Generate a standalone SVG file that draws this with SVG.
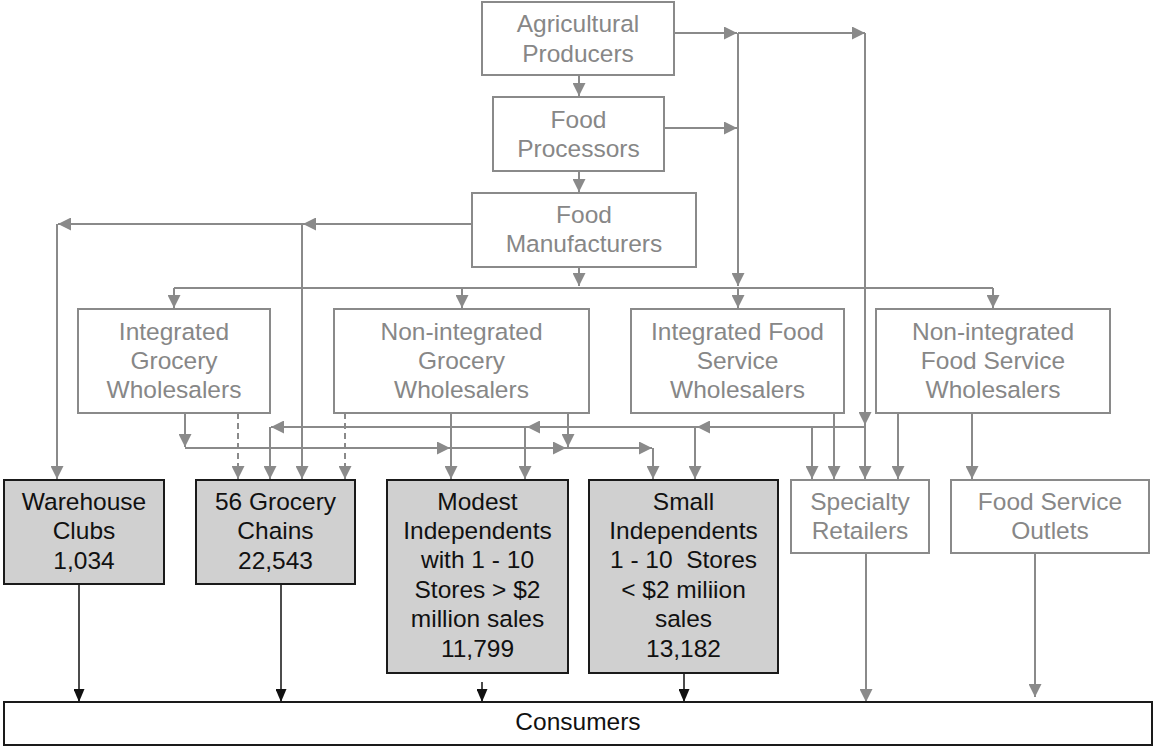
<svg xmlns="http://www.w3.org/2000/svg" width="1153" height="749" viewBox="0 0 1153 749">
<defs>
<style>
.gbox{fill:#ffffff;stroke:#8a8a8a;stroke-width:2}
.dbox{fill:#d0d0d0;stroke:#1a1a1a;stroke-width:2}
.wbox{fill:#ffffff;stroke:#1a1a1a;stroke-width:2}
.gt{font-family:"Liberation Sans",Arial,sans-serif;font-size:24.5px;fill:#878787;text-anchor:middle}
.dt{font-family:"Liberation Sans",Arial,sans-serif;font-size:24.5px;fill:#111111;text-anchor:middle}
.g{stroke:#8a8a8a;stroke-width:2;fill:none}
.ga{stroke:#8a8a8a;stroke-width:2;fill:none;marker-end:url(#ga)}
.gd{stroke:#8a8a8a;stroke-width:2;fill:none;stroke-dasharray:6,4;marker-end:url(#ga)}
.ka{stroke:#111111;stroke-width:1.5;fill:none;marker-end:url(#ka)}
</style>
<marker id="ga" markerUnits="userSpaceOnUse" markerWidth="13" markerHeight="13" refX="13" refY="6.5" orient="auto">
<path d="M0,0 L13,6.5 L0,13 Z" fill="#8a8a8a"/>
</marker>
<marker id="ka" markerUnits="userSpaceOnUse" markerWidth="13" markerHeight="11" refX="13" refY="5.5" orient="auto">
<path d="M0,0 L13,5.5 L0,11 Z" fill="#111111"/>
</marker>
</defs>

<g id="connectors">
<!-- top chain -->
<line class="ga" x1="579" y1="75" x2="579" y2="96"/>
<line class="ga" x1="579" y1="171" x2="579" y2="192"/>
<line class="ga" x1="674" y1="33" x2="737" y2="33"/>
<line class="ga" x1="738" y1="33" x2="865" y2="33"/>
<line class="ga" x1="664" y1="128" x2="737" y2="128"/>
<line class="ga" x1="738" y1="33" x2="738" y2="286"/>
<line class="ga" x1="865" y1="33" x2="865" y2="425"/>
<line class="ga" x1="865" y1="425" x2="865" y2="479"/>
<!-- food manufacturers left -->
<line class="ga" x1="472" y1="224" x2="303" y2="224"/>
<line class="ga" x1="303" y1="224" x2="58" y2="224"/>
<line class="ga" x1="57" y1="224" x2="57" y2="479"/>
<line class="ga" x1="302" y1="224" x2="302" y2="479"/>
<!-- distribution -->
<line class="ga" x1="579" y1="267" x2="579" y2="286"/>
<line class="g" x1="174" y1="288" x2="993" y2="288"/>
<line class="ga" x1="174" y1="288" x2="174" y2="308"/>
<line class="ga" x1="462" y1="288" x2="462" y2="308"/>
<line class="ga" x1="738" y1="288" x2="738" y2="308"/>
<line class="ga" x1="993" y1="288" x2="993" y2="308"/>
<!-- row 2 to row 3 -->
<line class="ga" x1="185" y1="413" x2="185" y2="447"/>
<line class="ga" x1="185" y1="448" x2="450" y2="448"/>
<line class="ga" x1="450" y1="448" x2="566" y2="448"/>
<line class="ga" x1="566" y1="448" x2="652" y2="448"/>
<line class="ga" x1="653" y1="448" x2="653" y2="479"/>
<line class="ga" x1="568" y1="413" x2="568" y2="447"/>
<line class="ga" x1="451" y1="413" x2="451" y2="479"/>
<line class="gd" x1="238" y1="413" x2="238" y2="479"/>
<line class="gd" x1="345" y1="413" x2="345" y2="479"/>
<line class="ga" x1="866" y1="427" x2="697" y2="427"/>
<line class="ga" x1="697" y1="427" x2="527" y2="427"/>
<line class="ga" x1="527" y1="427" x2="271" y2="427"/>
<line class="ga" x1="270" y1="427" x2="270" y2="479"/>
<line class="ga" x1="525" y1="427" x2="525" y2="479"/>
<line class="ga" x1="695" y1="427" x2="695" y2="479"/>
<line class="ga" x1="812" y1="427" x2="812" y2="479"/>
<line class="ga" x1="834" y1="413" x2="834" y2="479"/>
<line class="ga" x1="898" y1="413" x2="898" y2="479"/>
<line class="ga" x1="972" y1="413" x2="972" y2="479"/>
<!-- to consumers -->
<line class="ka" x1="79" y1="584" x2="79" y2="702"/>
<line class="ka" x1="281" y1="584" x2="281" y2="702"/>
<line class="ka" x1="482" y1="682" x2="482" y2="702"/>
<line class="ka" x1="684" y1="673" x2="684" y2="702"/>
<line class="ga" x1="866" y1="553" x2="866" y2="702"/>
<line class="ga" x1="1035" y1="553" x2="1035" y2="697"/>
</g>

<g id="agricultural-producers">
<rect class="gbox" x="482" y="2" width="192" height="73"/>
<text class="gt" x="578" y="32">Agricultural</text>
<text class="gt" x="578" y="62">Producers</text>
</g>
<g id="food-processors">
<rect class="gbox" x="493" y="97" width="171" height="74"/>
<text class="gt" x="578.5" y="128">Food</text>
<text class="gt" x="578.5" y="157">Processors</text>
</g>
<g id="food-manufacturers">
<rect class="gbox" x="472" y="193" width="224" height="74"/>
<text class="gt" x="584" y="223">Food</text>
<text class="gt" x="584" y="252">Manufacturers</text>
</g>

<g id="integrated-grocery-wholesalers">
<rect class="gbox" x="78" y="309" width="192" height="104"/>
<text class="gt" x="174" y="340">Integrated</text>
<text class="gt" x="174" y="369">Grocery</text>
<text class="gt" x="174" y="398">Wholesalers</text>
</g>
<g id="non-integrated-grocery-wholesalers">
<rect class="gbox" x="334" y="309" width="255" height="104"/>
<text class="gt" x="461.5" y="340">Non-integrated</text>
<text class="gt" x="461.5" y="369">Grocery</text>
<text class="gt" x="461.5" y="398">Wholesalers</text>
</g>
<g id="integrated-food-service-wholesalers">
<rect class="gbox" x="631" y="309" width="213" height="104"/>
<text class="gt" x="737.5" y="340">Integrated Food</text>
<text class="gt" x="737.5" y="369">Service</text>
<text class="gt" x="737.5" y="398">Wholesalers</text>
</g>
<g id="non-integrated-food-service-wholesalers">
<rect class="gbox" x="876" y="309" width="234" height="104"/>
<text class="gt" x="993" y="340">Non-integrated</text>
<text class="gt" x="993" y="369">Food Service</text>
<text class="gt" x="993" y="398">Wholesalers</text>
</g>

<g id="warehouse-clubs">
<rect class="dbox" x="4" y="480" width="160" height="104"/>
<text class="dt" x="84" y="510">Warehouse</text>
<text class="dt" x="84" y="539">Clubs</text>
<text class="dt" x="84" y="569">1,034</text>
</g>
<g id="grocery-chains">
<rect class="dbox" x="196" y="480" width="159" height="104"/>
<text class="dt" x="275.5" y="510">56 Grocery</text>
<text class="dt" x="275.5" y="539">Chains</text>
<text class="dt" x="275.5" y="569">22,543</text>
</g>
<g id="modest-independents">
<rect class="dbox" x="387" y="480" width="181" height="193"/>
<text class="dt" x="477.5" y="510">Modest</text>
<text class="dt" x="477.5" y="539">Independents</text>
<text class="dt" x="477.5" y="568">with 1 - 10</text>
<text class="dt" x="477.5" y="598">Stores &gt; $2</text>
<text class="dt" x="477.5" y="627">million sales</text>
<text class="dt" x="477.5" y="657">11,799</text>
</g>
<g id="small-independents">
<rect class="dbox" x="589" y="480" width="189" height="193"/>
<text class="dt" x="683.5" y="510">Small</text>
<text class="dt" x="683.5" y="539">Independents</text>
<text class="dt" x="683.5" y="568" xml:space="preserve">1 - 10  Stores</text>
<text class="dt" x="683.5" y="598">&lt; $2 miliion</text>
<text class="dt" x="683.5" y="627">sales</text>
<text class="dt" x="683.5" y="657">13,182</text>
</g>
<g id="specialty-retailers">
<rect class="gbox" x="791" y="480" width="138" height="73"/>
<text class="gt" x="860" y="510">Specialty</text>
<text class="gt" x="860" y="539">Retailers</text>
</g>
<g id="food-service-outlets">
<rect class="gbox" x="951" y="480" width="198" height="73"/>
<text class="gt" x="1050" y="510">Food Service</text>
<text class="gt" x="1050" y="539">Outlets</text>
</g>

<g id="consumers">
<rect class="wbox" x="4" y="702" width="1148" height="43"/>
<text class="dt" x="578" y="730">Consumers</text>
</g>
</svg>
